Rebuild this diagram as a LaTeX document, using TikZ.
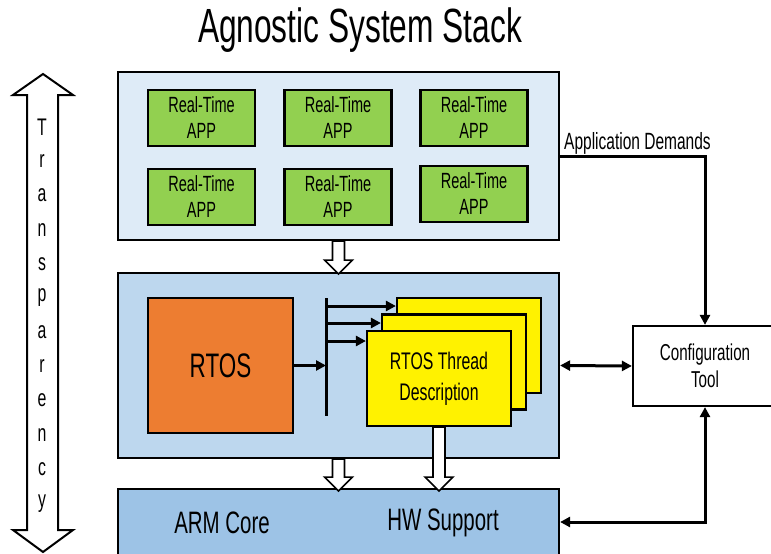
\documentclass[tikz,border=0pt]{standalone}
\usepackage{fontspec}
\setmainfont{Liberation Sans}[FakeStretch=0.66]
\usetikzlibrary{arrows.meta}

\definecolor{appsblue}{HTML}{DEEBF7}
\definecolor{rtosblue}{HTML}{BDD7EE}
\definecolor{armblue}{HTML}{9DC3E6}
\definecolor{appgreen}{HTML}{92D050}
\definecolor{rtosorange}{HTML}{ED7D31}

% hollow arrow pointing down, hanging from #1, #2 long
\newcommand{\hollowdown}[2]{%
  \draw[fill=white, line width=1.6pt] (#1) ++(-6,0) -- ++(0,#2-14) -- ++(-8,0)
    -- ++(14,14) -- ++(14,-14) -- ++(-8,0) -- ++(0,14-#2) -- cycle;}

\tikzset{
  box/.style={draw, line width=2.2pt, inner sep=0pt, align=center},
  layer/.style={box, minimum width=441pt},
  app/.style={box, fill=appgreen, minimum width=107pt, minimum height=56pt,
    font=\fontsize{22}{26}\selectfont},
  card/.style={box, fill=yellow, minimum width=144pt, minimum height=95pt},
  arr/.style={line width=3pt, -{Triangle[length=10pt,width=10pt]}},
  arrboth/.style={line width=3pt, {Triangle[length=10pt,width=10pt]}-{Triangle[length=10pt,width=10pt]}}
}

\begin{document}
\begin{tikzpicture}[x=1pt, y=-1pt]

    \useasboundingbox (0,0) rectangle (771,554);

    % title
    \node[font=\fontsize{48}{50}\selectfont] (title) at (360,30) {Agnostic System Stack};

    % the three layers
    \node[layer, fill=appsblue, minimum height=168pt] (apps) at (338.5,156) {};
    \node[layer, fill=rtosblue, minimum height=185pt] (mid) at (338.5,365.5) {};
    \node[layer, fill=armblue, minimum height=66pt] (base) at (338.5,522) {};

    % these are the applications
    \node[app] (app1) at (201.5,118) {Real-Time\\APP};
    \node[app] (app2) at (338,118) {Real-Time\\APP};
    \node[app] (app3) at (474,118) {Real-Time\\APP};
    \node[app] (app4) at (201.5,197) {Real-Time\\APP};
    \node[app] (app5) at (338,197) {Real-Time\\APP};
    \node[app] (app6) at (474,194) {Real-Time\\APP};

    % rtos and its threads
    \node[box, fill=rtosorange, minimum width=145pt, minimum height=135pt,
      font=\fontsize{34}{36}\selectfont] (rtos) at (220.5,365.5) {RTOS};
    \node[card] (back) at (469,345.5) {};
    \node[card] (midcard) at (454,362) {};
    \node[card, font=\fontsize{24}{31}\selectfont] (front) at (439,378.5) {RTOS Thread\\Description};

    \coordinate (bartop) at (326,298);
    \coordinate (barbot) at (326,416);
    \coordinate (b1) at (326,306);
    \coordinate (b2) at (326,323);
    \coordinate (b3) at (326,341);
    \draw[line width=3pt] (bartop) -- (barbot);
    \draw[arr] (rtos.east) -- (rtos.east -| bartop);
    \draw[arr] (b1) -- (b1 -| back.west);
    \draw[arr] (b2) -- (b2 -| midcard.west);
    \draw[arr] (b3) -- (b3 -| front.west);

    % hardware layer
    \node[font=\fontsize{31}{34}\selectfont] (arm) at (222,523) {ARM Core};
    \node[font=\fontsize{31}{34}\selectfont] (hw) at (443,523) {HW Support};

    % hollow arrows between layers
    \hollowdown{apps.south}{33}
    \hollowdown{mid.south}{32}
    \hollowdown{front.south}{64}

    % configuration tool
    \node[box, fill=white, minimum width=144pt, minimum height=80pt,
      font=\fontsize{23}{27}\selectfont] (config) at (705,366) {Configuration\\Tool};
    \node[anchor=base west, inner sep=0pt, font=\fontsize{23.5}{26}\selectfont]
      (demands) at (564,149) {Application Demands};
    \draw[arr] (apps.east) -| (config.north);
    \draw[arrboth] (mid.east) -- (config.west);
    \draw[arrboth] (config.south) |- (base.east);

    % transparency arrow
    \draw[fill=white, line width=2pt] (43,74) -- (73,95) -- (58,95) -- (58,530)
      -- (73,530) -- (43,552) -- (13,530) -- (27,530) -- (27,95) -- (13,95) -- cycle;
    \foreach \ch [count=\i from 0] in {T,r,a,n,s,p,a,r,e,n,c,y}
      \node[font=\fontsize{24}{26}\selectfont] (t\i) at (42,127+34.2*\i) {\ch};

\end{tikzpicture}
\end{document}
